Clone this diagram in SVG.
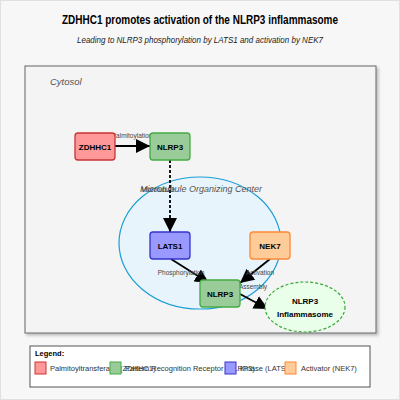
<svg xmlns="http://www.w3.org/2000/svg" width="400" height="400" viewBox="0 0 400 400">
<defs>
<style>
.node{stroke-width:1.3}
.lbl{font-family:"Liberation Sans",Arial,sans-serif;font-weight:bold;font-size:8px;fill:#000;text-anchor:middle}
.elbl{font-family:"Liberation Sans",Arial,sans-serif;font-size:6.5px;fill:#444;text-anchor:middle}
.edge{stroke:#000;stroke-width:1.8;fill:none}
.leg{font-family:"Liberation Sans",Arial,sans-serif;font-size:7.5px;fill:#333}
</style>
<marker id="arrL" viewBox="0 0 10 10" refX="10" refY="5" markerWidth="14" markerHeight="14" orient="auto" markerUnits="userSpaceOnUse">
<path d="M0,0 L10,5 L0,10 z" fill="#000"/>
</marker>
<filter id="sh" x="-5%" y="-5%" width="110%" height="110%">
<feDropShadow dx="2" dy="2" stdDeviation="1.5" flood-color="#000" flood-opacity="0.25"/>
</filter>
</defs>
<rect x="0.5" y="0.5" width="399" height="399" fill="#f7f7f7" stroke="#e0e0e0"/>
<text x="200" y="24" font-family="Liberation Sans,Arial,sans-serif" font-size="12" font-weight="bold" text-anchor="middle" fill="#000" textLength="276" lengthAdjust="spacingAndGlyphs">ZDHHC1 promotes activation of the NLRP3 inflammasome</text>
<text x="200" y="43" font-family="Liberation Sans,Arial,sans-serif" font-size="8.5" font-style="italic" text-anchor="middle" fill="#222" textLength="246" lengthAdjust="spacingAndGlyphs">Leading to NLRP3 phosphorylation by LATS1 and activation by NEK7</text>
<g id="cytosol">
<rect x="25" y="66" width="351" height="267" fill="#f4f4f4" stroke="#666" stroke-width="1" filter="url(#sh)"/>
<text x="50" y="85" font-family="Liberation Sans,Arial,sans-serif" font-size="9.5" font-style="italic" fill="#555">Cytosol</text>
</g>
<g id="mtoc">
<ellipse cx="200" cy="243" rx="81" ry="66" fill="#e8f4fb" stroke="#1a9fd6" stroke-width="1.2"/>
<text x="201" y="192" font-family="Liberation Sans,Arial,sans-serif" font-size="9" font-style="italic" text-anchor="middle" fill="#555">Microtubule Organizing Center</text>
</g>
<g id="connectors">
<line class="edge" x1="115" y1="146" x2="150" y2="146" marker-end="url(#arrL)"/>
<text class="elbl" x="132" y="138">Palmitoylation</text>
<line class="edge" x1="170" y1="160" x2="170" y2="232" stroke-dasharray="3,2" marker-end="url(#arrL)"/>
<text class="elbl" x="158" y="192">Microtubule</text>
<line class="edge" x1="171" y1="259" x2="209" y2="283" marker-end="url(#arrL)"/>
<text class="elbl" x="181" y="275">Phosphorylation</text>
<line class="edge" x1="270" y1="259" x2="240" y2="283" marker-end="url(#arrL)"/>
<text class="elbl" x="260" y="275">Activation</text>
<line class="edge" x1="240" y1="294" x2="268" y2="309" marker-end="url(#arrL)"/>
<text class="elbl" x="253" y="289">Assembly</text>
</g>
<g id="zdhhc1">
<rect class="node" x="75" y="133" width="40" height="27" rx="3" fill="#ff9999" stroke="#cc3333"/>
<text class="lbl" x="95" y="149.5">ZDHHC1</text>
</g>
<g id="nlrp3_top">
<rect class="node" x="150" y="133" width="40" height="27" rx="3" fill="#99cc99" stroke="#44aa44"/>
<text class="lbl" x="170" y="149.5">NLRP3</text>
</g>
<g id="lats1">
<rect class="node" x="150" y="232" width="40" height="27" rx="3" fill="#9999ff" stroke="#3333cc"/>
<text class="lbl" x="170" y="248.5">LATS1</text>
</g>
<g id="nek7">
<rect class="node" x="250" y="232" width="40" height="27" rx="3" fill="#ffcc99" stroke="#ff8833"/>
<text class="lbl" x="270" y="248.5">NEK7</text>
</g>
<g id="nlrp3_bottom">
<rect class="node" x="200" y="280" width="40" height="27" rx="3" fill="#99cc99" stroke="#44aa44"/>
<text class="lbl" x="220" y="296.5">NLRP3</text>
</g>
<g id="inflammasome">
<ellipse cx="305" cy="307" rx="40" ry="25" fill="#eaffea" stroke="#33aa33" stroke-width="1.2" stroke-dasharray="3,2"/>
<text class="lbl" x="305" y="304" font-size="7">NLRP3</text>
<text class="lbl" x="305" y="317" font-size="7">Inflammasome</text>
</g>
<g id="legend">
<rect x="30" y="346" width="340" height="41" fill="#fff" stroke="#555" stroke-width="1"/>
<text x="35" y="356" font-family="Liberation Sans,Arial,sans-serif" font-size="7.5" font-weight="bold" fill="#000">Legend:</text>
<rect x="35" y="362" width="11" height="12" fill="#ff9999" stroke="#cc3333"/>
<text class="leg" x="50" y="371">Palmitoyltransferase (ZDHHC1)</text>
<rect x="110" y="362" width="11" height="12" fill="#99cc99" stroke="#44aa44"/>
<text class="leg" x="125" y="371">Pattern Recognition Receptor (NLRP3)</text>
<rect x="225" y="362" width="11" height="12" fill="#9999ff" stroke="#3333cc"/>
<text class="leg" x="240" y="371">Kinase (LATS1)</text>
<rect x="285" y="362" width="11" height="12" fill="#ffcc99" stroke="#ff8833"/>
<text class="leg" x="301" y="371">Activator (NEK7)</text>
</g>
</svg>
